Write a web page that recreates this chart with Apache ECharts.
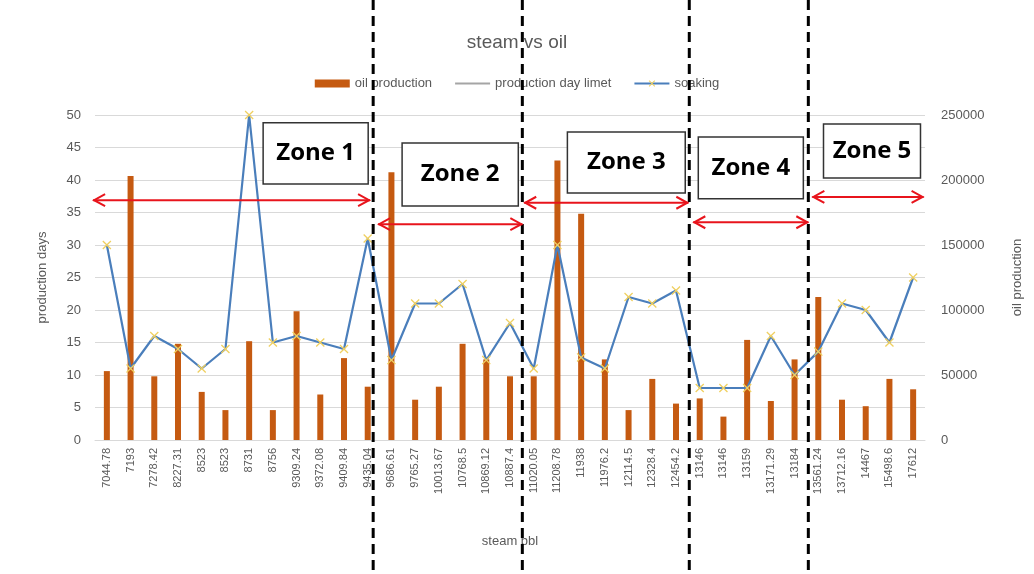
<!DOCTYPE html>
<html><head><meta charset="utf-8">
<script src="https://cdn.jsdelivr.net/npm/echarts@6/dist/echarts.min.js"></script>
<style>html,body{margin:0;padding:0;background:#fff}#c{width:1034px;height:574px}</style>
</head><body><div id="c"></div>
<script>
const steam = ['7044.78','7193','7278.42','8227.31','8523','8523','8731','8756','9309.24','9372.08','9409.84','9435.04',
 '9686.61','9765.27','10013.67','10768.5','10869.12','10887.4',
 '11020.05','11208.78','11938','11976.2','12114.5','12328.4','12454.2',
 '13146','13146','13159','13171.29','13184',
 '13561.24','13712.16','14467','15498.6','17612'];
const oilProduction = [53000,203000,49000,74000,37000,23000,76000,23000,99000,35000,63000,41000,
 206000,31000,41000,74000,62000,49000,
 49000,215000,174000,62000,23000,47000,28000,
 32000,18000,77000,30000,62000,
 110000,31000,26000,47000,39000];
const soaking = [30,11,16,14,11,14,50,15,16,15,14,31,
 12.3,21,21,24,12.3,18,
 11,30,12.7,11,22,21,23,
 8,8,8,16,10,
 13.6,21,20,15,25];
const productionDayLimit = [];
const leftTicks = {min:0,max:50,interval:5};
const rightTicks = {min:0,max:250000,interval:50000};
// annotations (category-index units / left-axis units)
const zoneNames = ['Zone 1','Zone 2','Zone 3','Zone 4','Zone 5'];
const zoneDividers = [11.73,18.02,25.06,30.08];
const zoneArrowFrom = [-0.08,11.94,18.1,25.23,30.25];
const zoneArrowTo = [11.6,18.02,25.02,30.08,34.94];
const zoneArrowLevel = [36.9,33.2,36.5,33.5,37.4];
const zoneBoxLeft = [7.09,12.95,19.92,25.44,30.72];
const zoneBoxRight = [11.52,17.85,24.89,29.87,34.81];
const zoneBoxTop = [48.8,45.7,47.4,46.6,48.6];
const zoneBoxBottom = [39.4,36.0,38.0,37.1,40.3];

const chart = echarts.init(document.getElementById('c'));
const txt = '#595959';
const font = 'Liberation Sans, Arial, sans-serif';
chart.setOption({
  animation:false,
  textStyle:{fontFamily:font},
  title:{text:'steam vs oil',left:'center',top:28,textStyle:{color:txt,fontSize:19,fontWeight:'normal',fontFamily:font}},
  legend:{top:72,left:'center',itemGap:22,textStyle:{color:txt,fontSize:13},
    data:[{name:'oil production',icon:'rect',itemStyle:{color:'#c55a11'}},
          {name:'production day limet',itemStyle:{opacity:0},lineStyle:{color:'#a5a5a5',width:2}},
          {name:'soaking'}],
    itemWidth:35,itemHeight:8},
  grid:{left:95,right:109,top:115,bottom:134},
  xAxis:[{type:'category',data:steam,name:'steam bbl',nameLocation:'middle',nameGap:95,
    nameTextStyle:{color:txt,fontSize:13},
    axisLine:{lineStyle:{color:'#d9d9d9'}},axisTick:{show:false},
    axisLabel:{interval:0,rotate:90,color:txt,fontSize:11}},
   {type:'value',min:0,max:35,show:false}],
  yAxis:[{type:'value',min:leftTicks.min,max:leftTicks.max,interval:leftTicks.interval,
    name:'production days',nameLocation:'middle',nameGap:46,nameTextStyle:{color:txt,fontSize:13},
    axisLabel:{color:txt,fontSize:13,margin:14},axisLine:{show:false},axisTick:{show:false},
    splitLine:{lineStyle:{color:'#d9d9d9'}}},
   {type:'value',min:rightTicks.min,max:rightTicks.max,interval:rightTicks.interval,
    name:'oil production',nameLocation:'middle',nameGap:86,nameTextStyle:{color:txt,fontSize:13},
    axisLabel:{color:txt,fontSize:13,margin:16,formatter:v=>String(v)},axisLine:{show:false},axisTick:{show:false},
    splitLine:{show:false}}],
  series:[
    {name:'oil production',type:'bar',xAxisIndex:0,yAxisIndex:1,data:oilProduction,barWidth:6,
     itemStyle:{color:'#c55a11'}},
    {name:'production day limet',type:'line',xAxisIndex:0,yAxisIndex:0,data:productionDayLimit,
     showSymbol:false,symbol:'none',lineStyle:{color:'#a5a5a5',width:2},itemStyle:{color:'#a5a5a5'}},
    {name:'soaking',type:'line',xAxisIndex:0,yAxisIndex:0,data:soaking,
     symbol:'path://M0,1L1,0L5,4L9,0L10,1L6,5L10,9L9,10L5,6L1,10L0,9L4,5Z',symbolSize:9,
     lineStyle:{color:'#4a7ebb',width:2.2},itemStyle:{color:'#f0d060'}}
  ]
});

function px(u){return chart.convertToPixel({xAxisIndex:1},u);}
function py(v){return chart.convertToPixel({yAxisIndex:0},v);}
const g = [];
const H = 574;
zoneDividers.forEach(u=>{
  const x = px(u);
  g.push({type:'line',shape:{x1:x,y1:0,x2:x,y2:H},z:100,
    style:{stroke:'#000',lineWidth:3,lineDash:[10,6]}});
});
const red = '#e8141c';
zoneNames.forEach((name,i)=>{
  const x1 = px(zoneArrowFrom[i]), x2 = px(zoneArrowTo[i]), y = py(zoneArrowLevel[i]);
  g.push({type:'line',shape:{x1:x1,y1:y,x2:x2,y2:y},z:101,style:{stroke:red,lineWidth:2}});
  g.push({type:'polyline',shape:{points:[[x1+12,y-6],[x1+1,y],[x1+12,y+6]]},z:101,style:{stroke:red,lineWidth:2,fill:null}});
  g.push({type:'polyline',shape:{points:[[x2-12,y-6],[x2-1,y],[x2-12,y+6]]},z:101,style:{stroke:red,lineWidth:2,fill:null}});
  const bx1 = px(zoneBoxLeft[i]), bx2 = px(zoneBoxRight[i]), by1 = py(zoneBoxTop[i]), by2 = py(zoneBoxBottom[i]);
  g.push({type:'rect',shape:{x:bx1,y:by1,width:bx2-bx1,height:by2-by1},z:102,
    style:{fill:'#fff',stroke:'#333',lineWidth:1.5}});
  g.push({type:'text',x:(bx1+bx2)/2,y:(by1+by2)/2,z:103,
    style:{text:name,fill:'#000',font:'bold 24px "Open Sans", "Noto Sans", sans-serif',align:'center',verticalAlign:'middle'}});
});
chart.setOption({graphic:g});
</script></body></html>
